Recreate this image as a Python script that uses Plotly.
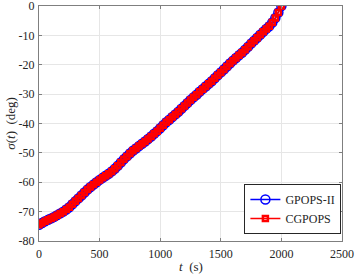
import plotly.graph_objects as go

t_s = [0, 25, 50, 75, 100, 125, 150, 175, 200, 225, 250, 275, 300, 325, 350, 375,
       400, 425, 450, 475, 500, 525, 550, 575, 600, 625, 650, 675, 700, 725, 750,
       775, 800, 825, 850, 875, 900, 925, 950, 975, 1000, 1025, 1050, 1075, 1100,
       1125, 1150, 1175, 1200, 1225, 1250, 1275, 1300, 1325, 1350, 1375, 1400,
       1425, 1450, 1475, 1500, 1525, 1550, 1575, 1600, 1625, 1650, 1675, 1700,
       1725, 1750, 1775, 1800, 1825, 1850, 1875, 1900, 1925, 1950, 1975, 2000]

sigma_gpops2 = [-74.5, -73.9, -73.3, -72.8, -72.3, -71.8, -71.2, -70.6, -70.0, -69.3,
                -68.5, -67.5, -66.5, -65.5, -64.5, -63.5, -62.5, -61.6, -60.8, -60.0,
                -59.2, -58.5, -57.8, -57.1, -56.3, -55.4, -54.4, -53.3, -52.2, -51.2,
                -50.2, -49.3, -48.5, -47.7, -46.9, -46.1, -45.3, -44.4, -43.5, -42.6,
                -41.6, -40.6, -39.6, -38.7, -37.8, -36.9, -36.0, -35.0, -34.0, -33.0,
                -32.0, -31.1, -30.2, -29.2, -28.3, -27.4, -26.5, -25.6, -24.6, -23.6,
                -22.6, -21.6, -20.6, -19.6, -18.6, -17.7, -16.8, -15.9, -14.9, -13.9,
                -12.8, -11.8, -10.8, -9.8, -8.8, -7.8, -6.9, -5.6, -4.1, -2.2, 0.0]

sigma_cgpops = [-74.5, -73.9, -73.3, -72.8, -72.3, -71.8, -71.2, -70.6, -70.0, -69.3,
                -68.5, -67.5, -66.5, -65.5, -64.5, -63.5, -62.5, -61.6, -60.8, -60.0,
                -59.2, -58.5, -57.8, -57.1, -56.3, -55.4, -54.4, -53.3, -52.2, -51.2,
                -50.2, -49.3, -48.5, -47.7, -46.9, -46.1, -45.3, -44.4, -43.5, -42.6,
                -41.6, -40.6, -39.6, -38.7, -37.8, -36.9, -36.0, -35.0, -34.0, -33.0,
                -32.0, -31.1, -30.2, -29.2, -28.3, -27.4, -26.5, -25.6, -24.6, -23.6,
                -22.6, -21.6, -20.6, -19.6, -18.6, -17.7, -16.8, -15.9, -14.9, -13.9,
                -12.8, -11.8, -10.8, -9.8, -8.8, -7.8, -6.9, -5.6, -4.1, -2.2, 0.0]

x_ticks = [0, 500, 1000, 1500, 2000, 2500]
y_ticks = [-80, -70, -60, -50, -40, -30, -20, -10, 0]

FONT = "Liberation Serif"
TXT = "#262626"

fig = go.Figure()
fig.add_trace(go.Scatter(
    x=t_s, y=sigma_gpops2, name="GPOPS-II", mode="lines+markers",
    line=dict(color="#0000ff", width=1.5),
    marker=dict(symbol="circle-open", size=9, color="#0000ff", line=dict(width=1.5)),
))
fig.add_trace(go.Scatter(
    x=t_s, y=sigma_cgpops, name="CGPOPS", mode="lines+markers",
    line=dict(color="#ff0000", width=1.5),
    marker=dict(symbol="square-open", size=5, color="#ff0000", line=dict(width=2.5)),
))

axis_common = dict(
    showgrid=True, gridcolor="#e6e6e6", gridwidth=1, automargin=False,
    zeroline=False, showline=True, linecolor="#7f7f7f", linewidth=1,
    mirror="ticks", ticks="inside", ticklen=3, tickcolor="#7f7f7f",
    ticklabeloverflow="allow",
    tickfont=dict(family=FONT, size=12, color=TXT),
)

fig.update_xaxes(range=[0, 2500], tickvals=x_ticks, ticktext=[str(v) for v in x_ticks],
                 ticklabelstandoff=2, **axis_common)
fig.update_yaxes(range=[-80, 0], tickvals=y_ticks, ticktext=[str(v) for v in y_ticks],
                 ticklabelstandoff=1, **axis_common)

fig.update_layout(
    width=355, height=277,
    margin=dict(l=39, r=13, t=6, b=36),
    plot_bgcolor="white", paper_bgcolor="white",
    showlegend=True,
    legend=dict(x=0.998, y=0.03, xanchor="right", yanchor="bottom",
                bgcolor="white", bordercolor=TXT, borderwidth=1,
                font=dict(family=FONT, size=12, color=TXT),
                itemwidth=30, tracegroupgap=0),
    annotations=[
        dict(text="<i>t</i>  (s)", xref="paper", yref="paper", x=0.5, y=-0.11,
             xanchor="center", yanchor="middle", showarrow=False,
             font=dict(family=FONT, size=13, color=TXT)),
        dict(text="<i>σ</i>(<i>t</i>)  (deg)", xref="paper", yref="paper", x=-0.095, y=0.5,
             xanchor="center", yanchor="middle", textangle=-90, showarrow=False,
             font=dict(family=FONT, size=13, color=TXT)),
    ],
)

fig.write_html("out.html", config={"displayModeBar": False},
               post_script="document.body.style.margin='0px';")
